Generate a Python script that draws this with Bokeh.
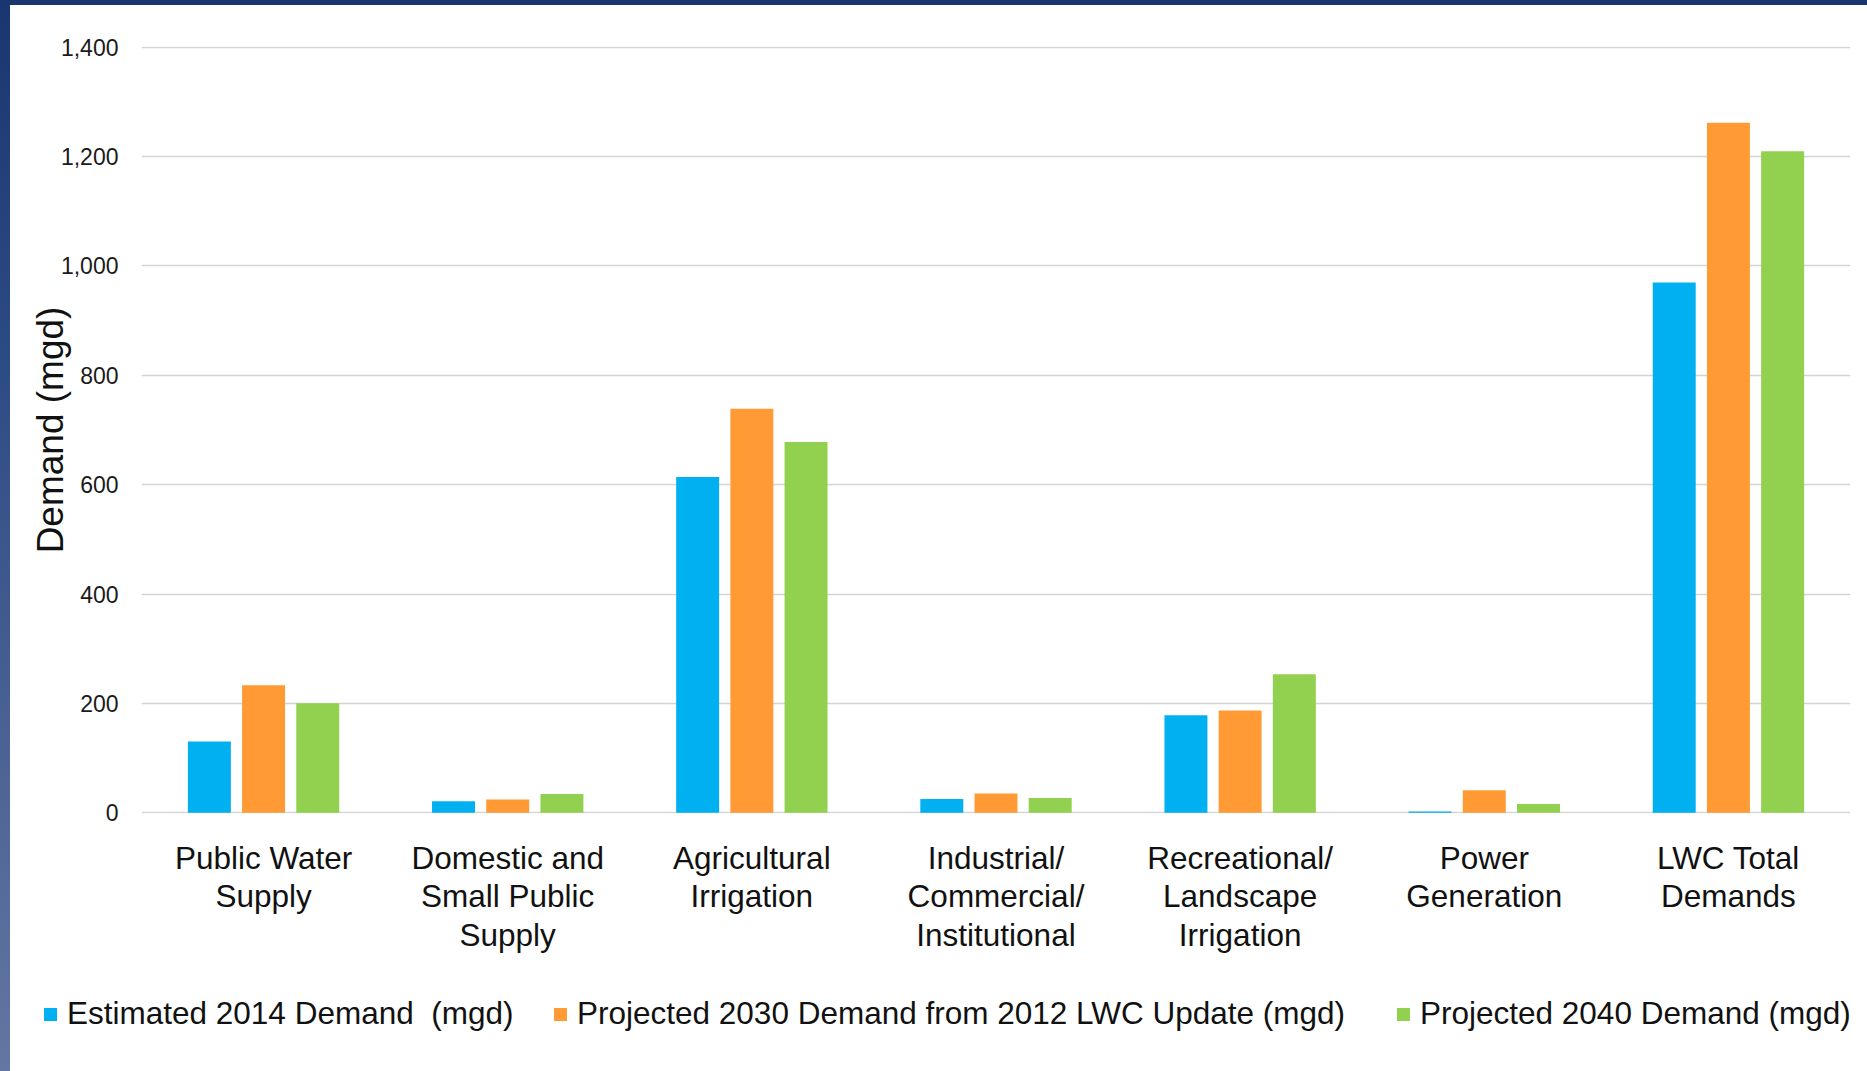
from bokeh.plotting import figure
from bokeh.layouts import column
from bokeh.models import (ColumnDataSource, FactorRange, Range1d, FixedTicker,
                          NumeralTickFormatter, Div, GlobalInlineStyleSheet)
from bokeh.transform import dodge
from bokeh.embed import file_html
from bokeh.resources import INLINE

# Water demand by use category (million gallons per day)
categories = [
    "Public Water\nSupply",
    "Domestic and\nSmall Public\nSupply",
    "Agricultural\nIrrigation",
    "Industrial/\nCommercial/\nInstitutional",
    "Recreational/\nLandscape\nIrrigation",
    "Power\nGeneration",
    "LWC Total\nDemands",
]
demand_2014 = [130, 21, 614, 25, 178, 2, 970]
demand_2030 = [233, 24, 739, 35, 187, 41, 1262]
demand_2040 = [200, 34, 678, 27, 253, 16, 1210]
series_labels = [
    "Estimated 2014 Demand  (mgd)",
    "Projected 2030 Demand from 2012 LWC Update (mgd)",
    "Projected 2040 Demand (mgd)",
]
y_ticks = [0, 200, 400, 600, 800, 1000, 1200, 1400]

FONT = "Liberation Sans"
BLUE, ORANGE, GREEN = "#00B0F0", "#FF9A35", "#92D050"
series_colors = [BLUE, ORANGE, GREEN]

src = ColumnDataSource(dict(category=categories, d2014=demand_2014,
                            d2030=demand_2030, d2040=demand_2040))

p = figure(x_range=FactorRange(*categories), y_range=Range1d(-1.5, 1401.5),
           width=1857, height=975, output_backend="svg", toolbar_location=None,
           min_border_left=131, min_border_right=17, min_border_top=41,
           min_border_bottom=167)
p.background_fill_color = "white"
p.border_fill_color = "white"
p.outline_line_color = None
# white host behind the canvas so no page colour bleeds through at the frame edges
p.styles = {"background-color": "white"}

# page frame: navy band along the top, navy-to-slate gradient down the left edge
page_css = """
html, body { margin: 0; }
body {
  padding: 5px 0 0 10px;
  min-height: 1071px;
  box-sizing: border-box;
  background: linear-gradient(to bottom, #1a3670 0%, #2e4c84 35%, #6476a2 100%);
}
"""
p.stylesheets = [GlobalInlineStyleSheet(css=page_css)]

bar_w = 0.176
r1 = p.vbar(x=dodge("category", -0.222, range=p.x_range), top="d2014", width=bar_w,
            source=src, fill_color=BLUE, line_color=None)
r2 = p.vbar(x=dodge("category", 0.0, range=p.x_range), top="d2030", width=bar_w,
            source=src, fill_color=ORANGE, line_color=None)
r3 = p.vbar(x=dodge("category", 0.222, range=p.x_range), top="d2040", width=bar_w,
            source=src, fill_color=GREEN, line_color=None)

# grid
p.xgrid.grid_line_color = None
p.ygrid.grid_line_color = "#d4d4d4"
p.ygrid.grid_line_width = 1.5

# y axis
p.yaxis.ticker = FixedTicker(ticks=y_ticks)
p.yaxis.formatter = NumeralTickFormatter(format="0,0")
p.yaxis.axis_line_color = None
p.yaxis.major_tick_out = 0
p.yaxis.major_tick_in = 0
p.yaxis.minor_tick_out = 0
p.yaxis.minor_tick_in = 0
p.yaxis.major_label_standoff = 23
p.yaxis.major_label_text_font = FONT
p.yaxis.major_label_text_font_size = "23px"
p.yaxis.major_label_text_color = "#1a1a1a"
p.yaxis.axis_label = "Demand (mgd)"
p.yaxis.axis_label_text_font = FONT
p.yaxis.axis_label_text_font_size = "37px"
p.yaxis.axis_label_text_font_style = "normal"
p.yaxis.axis_label_text_color = "#111111"
p.yaxis.axis_label_standoff = -13

# x axis
p.xaxis.axis_line_color = None
p.xaxis.major_tick_out = 0
p.xaxis.major_tick_in = 0
p.xaxis.major_label_standoff = 26
p.xaxis.major_label_text_font = FONT
p.xaxis.major_label_text_font_size = "31.5px"
p.xaxis.major_label_text_line_height = 1.07
p.xaxis.major_label_text_color = "#111111"

# one-row key under the category labels: colour swatch + series name
item_widths = [510, 843, None]
key_items = []
for label, color, w in zip(series_labels, series_colors, item_widths):
    width_css = f"width:{w}px;" if w else ""
    key_items.append(
        f'<span style="display:inline-flex;align-items:center;{width_css}flex:none">'
        f'<span style="display:inline-block;width:13px;height:13px;background:{color};'
        f'margin-right:10px;flex:none"></span>'
        f'<span style="white-space:pre">{label}</span></span>'
    )
key_html = (
    f'<div style="display:flex;align-items:center;height:68px;padding-left:34px;'
    f'font-family:\'{FONT}\';font-size:31.5px;color:#111111;line-height:1">'
    + "".join(key_items) + "</div>"
)
key = Div(text=key_html, width=1857, height=91, margin=(0, 0, 0, 0),
          styles={"background-color": "white"})

layout = column(p, key, spacing=0)

open("out.html", "w").write(file_html(layout, INLINE))
